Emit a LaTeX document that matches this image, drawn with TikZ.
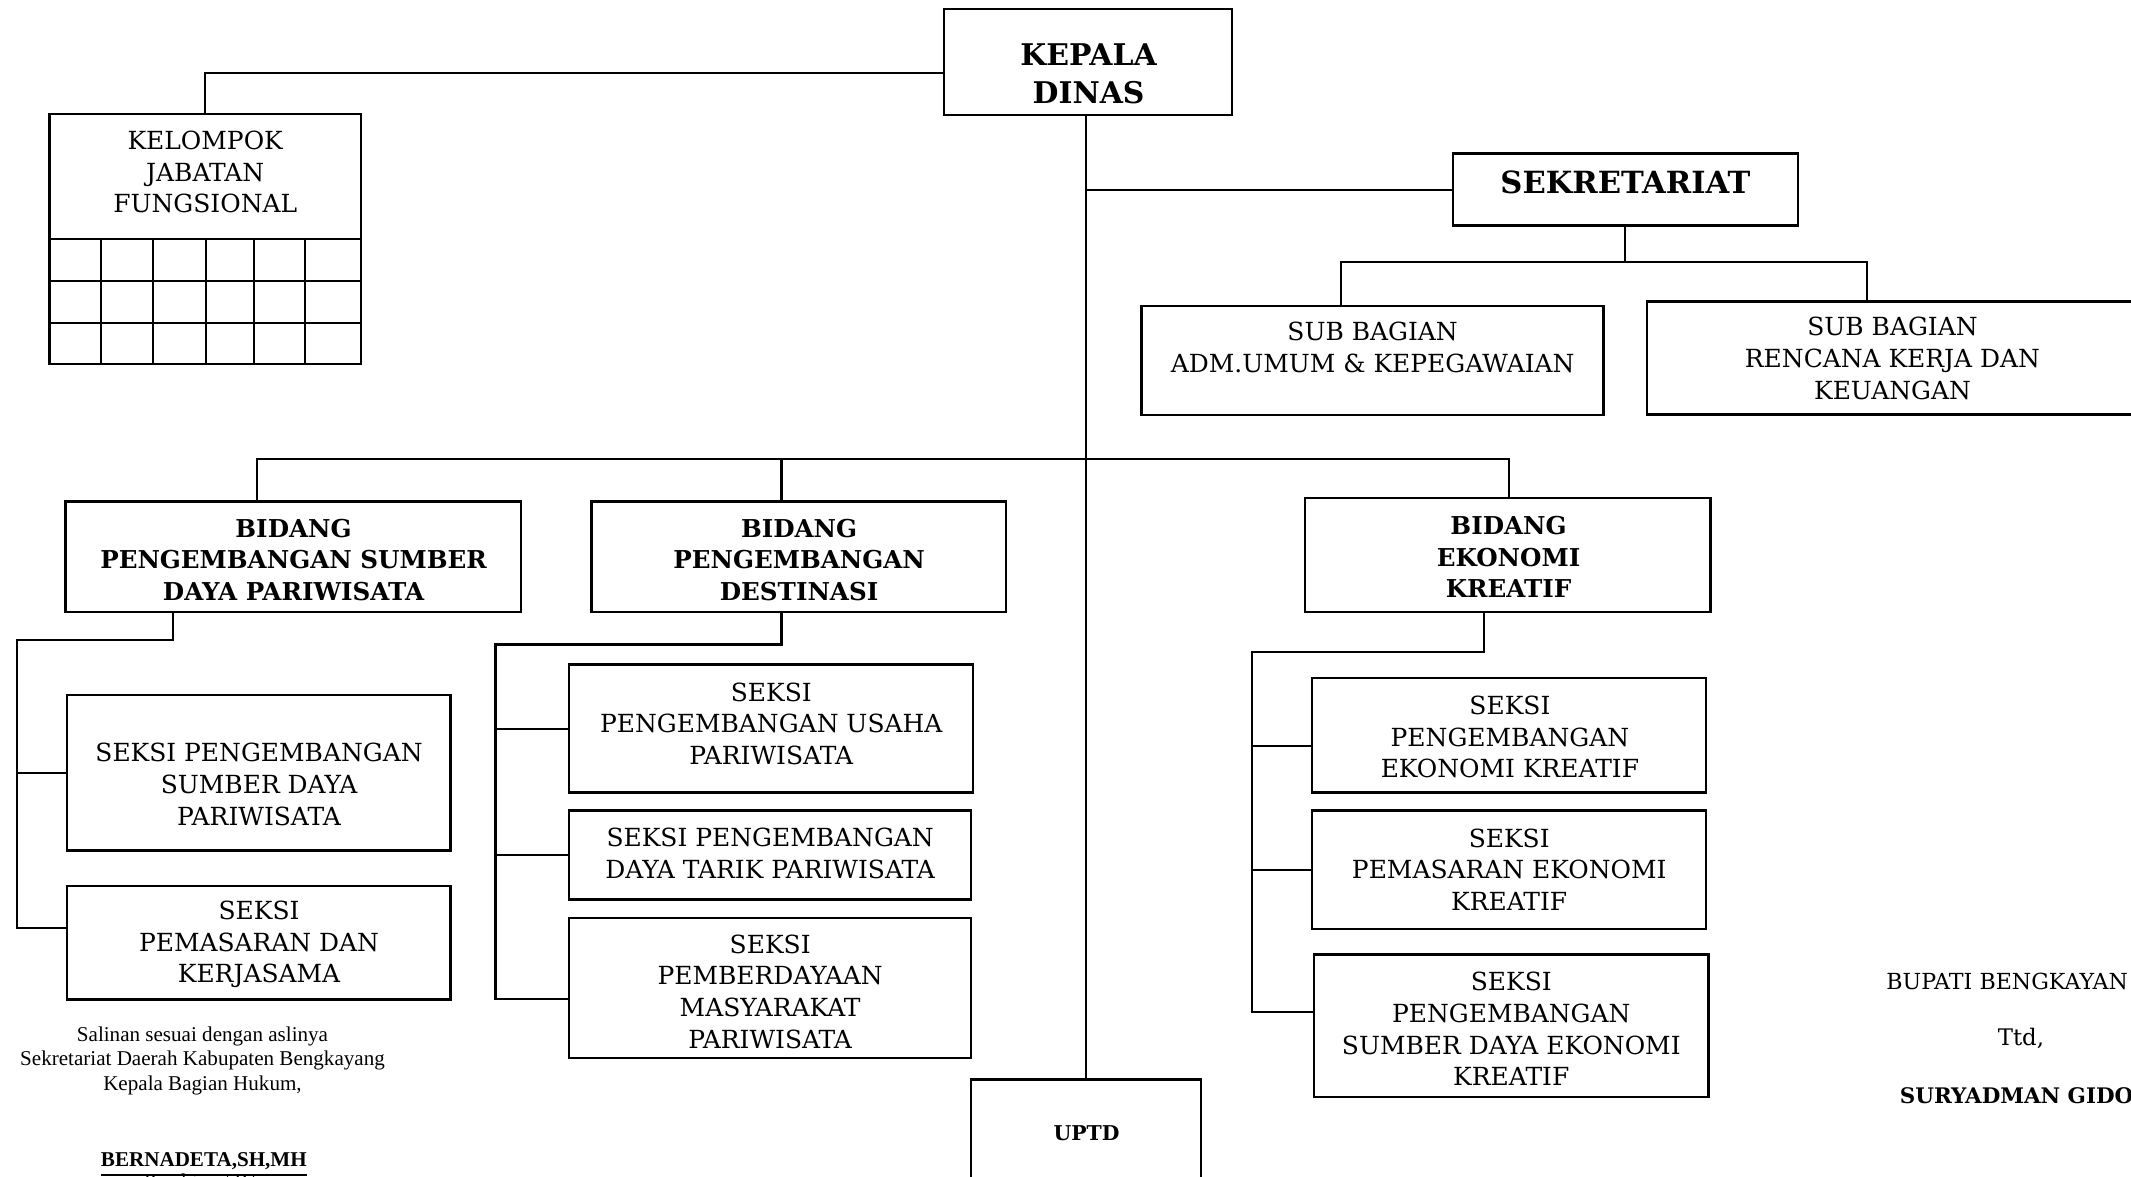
\documentclass[tikz,border=0pt]{standalone}
\usepackage{fontspec}
\setmainfont{DejaVu Serif}
\newfontfamily\tnr{Liberation Serif}
\usetikzlibrary{fit,calc}
\begin{document}
\begin{tikzpicture}[x=0.01359cm,y=-0.01359cm,
  box/.style={draw,line width=0.7pt,inner sep=0pt},
  conn/.style={line width=0.6pt},
  txt/.style={align=center,inner sep=0pt,font=\fontsize{7.1}{9}\selectfont},
  btxt/.style={align=center,inner sep=0pt,font=\fontsize{7}{9}\selectfont\bfseries},
  foot/.style={align=center,inner sep=0pt,font=\tnr\fontsize{6}{7}\selectfont}]
\useasboundingbox (0,0) rectangle (1568,866);
\clip (0,0) rectangle (1568,866);

% boxes
\node[box,fit={(694.5,6.5) (906.5,84.5)}] (kd) {};
\node[box,fit={(36.4,84) (265.8,268)}] (kjf) {};
\node[box,fit={(1069,113) (1323,166)}] (sek) {};
\node[box,fit={(840,225) (1180,305.4)}] (sb1) {};
\node[box,fit={(1212,222) (1573,305)}] (sb2) {};
\node[box,fit={(48.3,369) (383.4,450.3)}] (b1) {};
\node[box,fit={(435.1,369) (740.1,450.3)}] (b2) {};
\node[box,fit={(960.3,366.3) (1258.7,450.3)}] (b3) {};
\node[box,fit={(49.3,511.2) (331.6,625.7)}] (s11) {};
\node[box,fit={(49.3,651.8) (331.6,735.3)}] (s12) {};
\node[box,fit={(418.8,489) (716,583.2)}] (s21) {};
\node[box,fit={(418.8,596.5) (714.6,661.7)}] (s22) {};
\node[box,fit={(418.8,675.4) (714.6,778.4)}] (s23) {};
\node[box,fit={(965.4,498.7) (1255.3,583.2)}] (s31) {};
\node[box,fit={(965.4,596.5) (1255.3,683.6)}] (s32) {};
\node[box,fit={(966.7,702.2) (1257,807.2)}] (s33) {};
\node[box,fit={(714.5,794.2) (883.7,900)}] (uptd) {};

% grid of kelompok jabatan fungsional
\draw[line width=0.7pt] (36.4,175.9) -- (265.8,175.9);
\draw[line width=0.6pt] (36.4,206.6) -- (265.8,206.6) (36.4,237.5) -- (265.8,237.5);
\foreach \gx in {74.5,112.7,151.4,186.6,224.6}
  \draw[line width=0.6pt] (\gx,175.9) -- (\gx,268);

% texts
\node[align=center,inner sep=0pt,font=\fontsize{8.5}{10.8}\selectfont\bfseries] (tkd) at (801,54) {KEPALA\\DINAS};
\node[txt] (tkjf) at (151,126.5) {KELOMPOK\\JABATAN\\FUNGSIONAL};
\node[inner sep=0pt,font=\fontsize{8.7}{10}\selectfont\bfseries] (tsek) at (1196,134.5) {SEKRETARIAT};
\node[txt] (tsb1) at (1010,255.5) {SUB BAGIAN\\ADM.UMUM \& KEPEGAWAIAN};
\node[txt] (tsb2) at (1392.5,263.7) {SUB BAGIAN\\RENCANA KERJA DAN\\KEUANGAN};
\node[btxt] (tb1) at (216,412) {BIDANG\\PENGEMBANGAN SUMBER\\DAYA PARIWISATA};
\node[btxt] (tb2) at (588,412) {BIDANG\\PENGEMBANGAN\\DESTINASI};
\node[btxt] (tb3) at (1110,409.8) {BIDANG\\EKONOMI\\KREATIF};
\node[txt] (ts11) at (190.6,577.2) {SEKSI PENGEMBANGAN\\SUMBER DAYA\\PARIWISATA};
\node[txt] (ts12) at (190.6,695) {SEKSI\\PEMASARAN DAN\\KERJASAMA};
\node[txt] (ts21) at (567.5,532.5) {SEKSI\\PENGEMBANGAN USAHA\\PARIWISATA};
\node[txt] (ts22) at (566.7,628) {SEKSI PENGEMBANGAN\\DAYA TARIK PARIWISATA};
\node[txt] (ts23) at (566.7,729.7) {SEKSI\\PEMBERDAYAAN\\MASYARAKAT\\PARIWISATA};
\node[txt] (ts31) at (1111,542.3) {SEKSI\\PENGEMBANGAN\\EKONOMI KREATIF};
\node[txt] (ts32) at (1110.5,639.7) {SEKSI\\PEMASARAN EKONOMI\\KREATIF};
\node[txt] (ts33) at (1112,757.2) {SEKSI\\PENGEMBANGAN\\SUMBER DAYA EKONOMI\\KREATIF};
\node[inner sep=0pt,font=\fontsize{5.8}{7}\selectfont\bfseries] (tuptd) at (799.5,834) {UPTD};

% footer texts
\node[foot] (fsal) at (149,780.5) {Salinan sesuai dengan aslinya\\Sekretariat Daerah Kabupaten Bengkayang\\Kepala Bagian Hukum,};
\node[foot,anchor=base,font=\tnr\fontsize{6}{7}\selectfont\bfseries] (fber) at (150,858.5) {\underline{BERNADETA,SH,MH}};
\node[foot,anchor=base] (fpem) at (150,874.5) {Pembina / IVa};
\node[inner sep=0pt,anchor=west,font=\fontsize{6.3}{8}\selectfont] (bup) at (1387.5,722) {BUPATI BENGKAYAN};
\node[inner sep=0pt,font=\fontsize{6.5}{8}\selectfont] (ttd) at (1487,763.7) {Ttd,};
\node[inner sep=0pt,anchor=west,font=\fontsize{6.1}{8}\selectfont\bfseries] (sur) at (1397.4,806.3) {SURYADMAN GIDO};

% connectors
\draw[conn] ($(kd.west)+(0,8)$) -| (kjf.north);
\draw[conn] (kd.south -| uptd.north) -- (uptd.north);
\draw[conn] (uptd.north |- sek.west) -- (sek.west);

\coordinate (sbL) at (987,192.5);
\coordinate (sbR) at (1374,192.5);
\draw[conn] (sek.south) -- (sek.south |- sbL);
\draw[conn] (sbL |- sb1.north) -- (sbL) -- (sbR) -- (sbR |- sb2.north);

\coordinate (bL) at (189,338);
\coordinate (bM) at (575,338);
\coordinate (bR) at (1110,338);
\draw[conn] (bL |- b1.north) -- (bL) -- (bR) -- (bR |- b3.north);
\draw[conn] (bM) -- (bM |- b2.north);

% bidang 1
\coordinate (c1t) at (127.6,471);
\coordinate (c1l) at (12.3,471);
\coordinate (c1b) at (12.3,683);
\draw[conn] (b1.south -| c1t) -- (c1t) -- (c1l) -- (c1b) -- (c1b -| s12.west);
\draw[conn] (c1l |- s11.west) -- (s11.west);

% bidang 2
\coordinate (c2t) at (575,474.2);
\coordinate (c2l) at (364.6,474.2);
\coordinate (c2b) at (364.6,735.2);
\draw[conn] (b2.south -| c2t) -- (c2t) -- (c2l) -- (c2b) -- (c2b -| s23.west);
\draw[conn] (c2l |- s21.west) -- (s21.west);
\draw[conn] (c2l |- s22.west) -- (s22.west);

% bidang 3
\coordinate (c3t) at (1092.2,479.8);
\coordinate (c3l) at (921.3,479.8);
\coordinate (c3m) at (921.3,548.8);
\coordinate (c3b) at (921.3,744.7);
\draw[conn] (b3.south -| c3t) -- (c3t) -- (c3l) -- (c3b) -- (c3b -| s33.west);
\draw[conn] (c3m) -- (c3m -| s31.west);
\draw[conn] (c3l |- s32.west) -- (s32.west);
\end{tikzpicture}
\end{document}
